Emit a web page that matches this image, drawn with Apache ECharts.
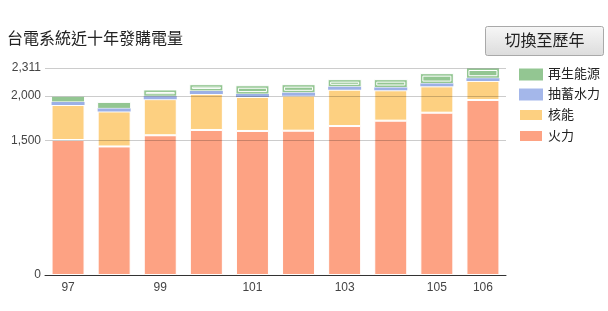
<!DOCTYPE html>
<html>
<head>
<meta charset="utf-8">
<script src="https://cdn.jsdelivr.net/npm/echarts@6/dist/echarts.min.js"></script>
<style>
html,body{margin:0;padding:0;background:#fff;}
#c{width:608px;height:311px;}
</style>
</head>
<body>
<div id="c"></div>
<script>
var years = ['97','98','99','100','101','102','103','104','105','106'];
var thermal = [1507,1435,1560,1619,1608,1611,1663,1723,1812,1954];
var nuclear = [391,391,403,403,380,391,406,339,294,213];
var pumped = [34,34,33,33,32,32,32,31,31,30];
var renewable = [63,67,70,70,93,91,80,88,111,114];
var yTicks = [0,1500,2000,2311];
var yMax = 2311;

var FONT = '"Liberation Sans","Noto Sans CJK TC",sans-serif';
var cRed = '#fda283', cYel = '#fdd081', cBlu = '#a4b7ea', cGrn = '#93c692';
var cBluBar = '#9cb0e6';

var renewData = years.map(function(y,i){
  var base = thermal[i] + nuclear[i] + pumped[i];
  return [i, base, base + renewable[i]];
});

var chart = echarts.init(document.getElementById('c'), null, {renderer:'canvas'});
var barStyle = function(c){ return {color:c, borderColor:'#fff', borderWidth:1}; };

chart.setOption({
  animation:false,
  textStyle:{fontFamily:FONT},
  title:{text:'台電系統近十年發購電量', left:7, top:32, padding:0,
    textStyle:{fontSize:16, fontWeight:'normal', color:'#222', fontFamily:FONT}},
  legend:{orient:'vertical', left:518, top:68, padding:0, itemWidth:24, itemHeight:12, itemGap:7,
    icon:'rect', textStyle:{fontSize:13, color:'#222', fontFamily:FONT},
    data:['再生能源','抽蓄水力','核能','火力']},
  grid:{left:45, right:102, top:68, bottom:36},
  xAxis:{type:'category', data:years,
    axisLine:{lineStyle:{color:'#333', width:1}}, axisTick:{show:false},
    axisLabel:{color:'#444', fontSize:12, margin:7,
      interval:function(i){ return i%2===0 || i===years.length-1; }}},
  yAxis:{type:'value', min:0, max:yMax, splitLine:{show:false},
    axisLabel:{show:false}, axisLine:{show:false}, axisTick:{show:false}},
  graphic:[{
    type:'group', left:485, top:26,
    children:[
      {type:'rect', shape:{x:0,y:0,width:118,height:29,r:2},
       style:{fill:new echarts.graphic.LinearGradient(0,0,0,1,[{offset:0,color:'#f7f7f7'},{offset:1,color:'#dcdcdc'}]),
       stroke:'#a9a9a9', lineWidth:1}},
      {type:'text', x:59, y:15, style:{text:'切換至歷年', fill:'#222', font:'16px '+FONT, align:'center', verticalAlign:'middle'}}
    ]
  }],
  series:[
    {name:'火力', type:'bar', stack:'a', data:thermal, barWidth:33, itemStyle:barStyle(cRed),
     markLine:{silent:true, symbol:'none', animation:false,
       label:{position:'start', distance:4, color:'#444', fontSize:12, fontFamily:FONT,
         formatter:function(p){ return Number(p.value).toLocaleString('en-US'); }},
       lineStyle:{color:'rgba(0,0,0,0.2)', type:'solid', width:1},
       data:yTicks.map(function(v){ return {yAxis:v, lineStyle: v===0?{color:'#333'}:undefined}; })}},
    {name:'核能', type:'bar', stack:'a', data:nuclear, barWidth:33, itemStyle:barStyle(cYel)},
    {name:'抽蓄水力', type:'bar', stack:'a', barWidth:33, itemStyle:{color:cBlu, borderWidth:0},
     data:pumped.map(function(v){ return {value:v, itemStyle:{color:cBluBar}}; })},
    {name:'再生能源', type:'custom', data:renewData, encode:{x:0, y:[1,2]},
     itemStyle:{color:cGrn},
     renderItem:function(params, api){
       var i = api.value(0);
       var p0 = api.coord([i, api.value(1)]);
       var p1 = api.coord([i, api.value(2)]);
       var w = 33;
       var x = p0[0]-w/2, y = p1[1], h = p0[1]-p1[1];
       var ch = [{type:'rect', shape:{x:x, y:y, width:w, height:h},
         style:{fill:cGrn, stroke:'#fff', lineWidth:1}}];
       if (h > 6.1) {
         ch.push({type:'rect', shape:{x:x+2.5, y:y+2.5, width:w-5, height:h-5},
           style:{fill:'none', stroke:'#fff', lineWidth:1}});
       }
       return {type:'group', children:ch};
     }}
  ]
});
</script>
</body>
</html>
